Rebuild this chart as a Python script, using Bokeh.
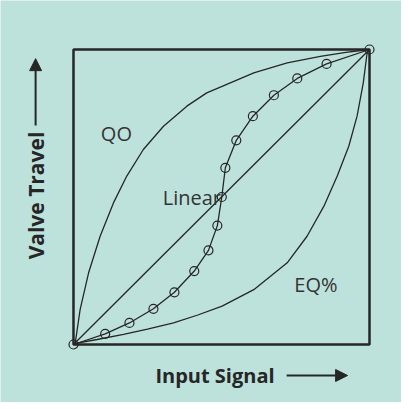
from bokeh.plotting import figure
from bokeh.models import Range1d, Arrow, NormalHead
from bokeh.core.properties import value
from bokeh.embed import file_html
from bokeh.resources import INLINE

# ---- data (percent of full scale) ----
linear_x = [0, 100]
linear_y = [0, 100]

qo_x = [0, 0.6, 2.25, 5.1, 9.0, 13.5, 18.0, 23.6, 30.4, 38.3, 45.0, 50.2, 60.9, 72.2, 83.4, 92.0, 100]
qo_y = [0, 0.6, 11.9, 24.3, 36.7, 48.0, 57.1, 66.1, 74.0, 80.8, 85.3, 87.5, 92.1, 95.5, 97.7, 99.0, 100]

eq_x = [0, 0.3, 8.0, 16.9, 25.0, 33.8, 42.0, 50.2, 60.9, 72.2, 78.9, 84.6, 89.1, 93.0, 95.8, 97.9, 99.2, 100]
eq_y = [0, 0.3, 1.7, 3.4, 5.2, 7.3, 10.0, 13.0, 18.6, 27.7, 36.7, 46.9, 57.1, 67.2, 77.4, 88.7, 98.9, 100]

s_x = [0, 10.7, 18.9, 27.0, 34.1, 40.8, 45.6, 48.6, 50.1, 51.3, 55.0, 60.6, 67.7, 75.6, 85.5, 100]
s_y = [0, 3.6, 7.3, 12.1, 17.7, 24.9, 31.9, 40.3, 50.0, 59.9, 69.2, 77.4, 84.5, 90.2, 95.1, 100]

curve_labels = ["QO", "Linear", "EQ%"]
x_title = "Input Signal"
y_title = "Valve Travel"

BG = "#bde2db"
INK = "#262626"
FONT = "Open Sans"

p = figure(width=401, height=402, output_backend="svg", toolbar_location=None,
           x_axis_location=None, y_axis_location=None,
           x_range=Range1d(-24.66, 110.81), y_range=Range1d(-19.66, 116.61),
           min_border=0, min_border_left=0, min_border_right=0,
           min_border_top=0, min_border_bottom=0)
p.background_fill_color = BG
p.border_fill_color = BG
p.outline_line_color = None
p.grid.visible = False

# frame box
p.quad(left=[0], right=[100], bottom=[0], top=[100], fill_alpha=0,
       line_color=INK, line_width=2.5)

# curves
p.line(linear_x, linear_y, line_color=INK, line_width=1.3)
p.line(qo_x, qo_y, line_color=INK, line_width=1.3)
p.line(eq_x, eq_y, line_color=INK, line_width=1.3)
p.line(s_x, s_y, line_color=INK, line_width=1.3)
p.scatter(s_x, s_y, marker="circle", size=9, fill_alpha=0,
          line_color=INK, line_width=1.2)

# curve labels
p.text(x=[14.5, 40.0, 81.9], y=[71.5, 50.0, 20.3], text=curve_labels,
       text_font=value(FONT), text_font_size="20px", text_color="#333333",
       text_align="center", text_baseline="middle")

# axis titles
p.text(x=[47.8], y=[-10.5], text=[x_title], text_font=value(FONT),
       text_font_size="20px", text_font_style="bold", text_color=INK,
       text_align="center", text_baseline="middle")
p.text(x=[-12.8], y=[50.5], text=[y_title], text_font=value(FONT),
       text_font_size="21px", text_font_style="bold", text_color=INK,
       text_align="center", text_baseline="middle", angle=1.5708)

# arrows
p.add_layout(Arrow(x_start=72.0, y_start=-10.5, x_end=92.6, y_end=-10.5,
                   line_color=INK, line_width=2,
                   end=NormalHead(size=12, fill_color=INK, line_color=INK)))
p.add_layout(Arrow(x_start=-12.8, y_start=74.2, x_end=-12.8, y_end=96.9,
                   line_color=INK, line_width=2,
                   end=NormalHead(size=12, fill_color=INK, line_color=INK)))

open("out.html", "w").write(file_html(p, INLINE))
